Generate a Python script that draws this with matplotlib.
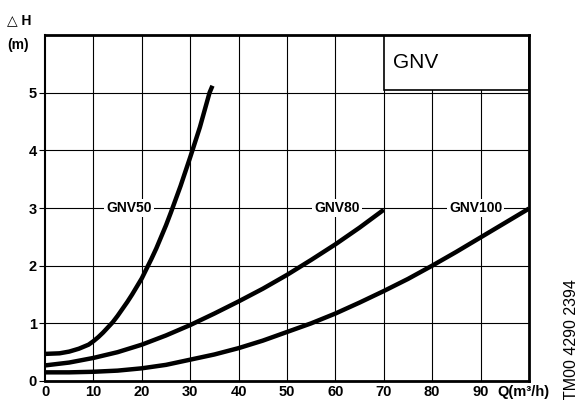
import matplotlib.pyplot as plt
from matplotlib.patches import Rectangle

# courbes : Q (m3/h) et perte de charge dH (m)
q_gnv50 = [0, 3, 5, 7, 9, 10, 11, 12, 13, 14, 15, 16, 17, 18, 19, 20, 21, 22, 23, 24, 25, 26, 27, 28, 29,
           30, 31, 32, 33, 34, 34.6]
h_gnv50 = [0.47, 0.48, 0.51, 0.56, 0.63, 0.69, 0.76, 0.84, 0.93, 1.02, 1.13, 1.25, 1.37, 1.5, 1.64, 1.78,
           1.95, 2.12, 2.3, 2.5, 2.7, 2.92, 3.15, 3.38, 3.63, 3.88, 4.14, 4.4, 4.7, 5.0, 5.12]

q_gnv80 = [0, 5, 10, 15, 20, 25, 30, 35, 40, 45, 50, 55, 60, 65, 70]
h_gnv80 = [0.27, 0.32, 0.4, 0.5, 0.63, 0.79, 0.97, 1.17, 1.38, 1.6, 1.84, 2.1, 2.37, 2.66, 2.97]

q_gnv100 = [0, 5, 10, 15, 20, 25, 30, 35, 40, 45, 50, 55, 60, 65, 70, 75, 80, 85, 90, 95, 100]
h_gnv100 = [0.15, 0.15, 0.16, 0.18, 0.22, 0.28, 0.37, 0.46, 0.57, 0.7, 0.85, 1.0, 1.17, 1.36, 1.56, 1.77,
            2.0, 2.24, 2.49, 2.74, 2.99]

x_ticks = [0, 10, 20, 30, 40, 50, 60, 70, 80, 90]
y_ticks = [0, 1, 2, 3, 4, 5]

curves = [(q_gnv50, h_gnv50, "GNV50", 17.3),
          (q_gnv80, h_gnv80, "GNV80", 60.3),
          (q_gnv100, h_gnv100, "GNV100", 89)]

plt.rcParams['font.family'] = ['Liberation Sans', 'DejaVu Sans']

fig = plt.figure(figsize=(5.86, 4.0), dpi=100)
ax = fig.add_axes([0.0768, 0.0475, 0.8259, 0.865])
ax.set_xlim(0, 100)
ax.set_ylim(0, 6)

for x in x_ticks[1:]:
    ax.axvline(x, color='black', lw=0.8, zorder=1)
for y in y_ticks[1:]:
    ax.axhline(y, color='black', lw=0.8, zorder=1)

ax.add_patch(Rectangle((70, 5.05), 30, 0.95, facecolor='white', edgecolor='black', lw=1.2, zorder=2))
ax.text(72, 5.52, "GNV", fontsize=15, va='center', ha='left', zorder=3)

for q, h, name, xl in curves:
    ax.plot(q, h, color='black', lw=3.2, solid_capstyle='butt', solid_joinstyle='round', zorder=4)
    ax.text(xl, 3, name, fontsize=10, fontweight='bold', ha='center', va='center', zorder=3,
            bbox=dict(facecolor='white', edgecolor='none', pad=1.5))

ax.set_xticks(x_ticks)
ax.set_xticklabels([str(v) for v in x_ticks])
ax.set_yticks(y_ticks)
ax.tick_params(axis='both', labelsize=10.5, width=0.8)
ax.tick_params(axis='x', length=0, pad=3)
ax.tick_params(axis='y', length=4, pad=2)
for lab in ax.get_xticklabels() + ax.get_yticklabels():
    lab.set_fontweight('bold')

for s in ax.spines.values():
    s.set_linewidth(2)
ax.spines['left'].set_linewidth(1.5)

fig.text(0.849, 0.003, "Q(m\u00b3/h)", fontsize=10.5, fontweight='bold', ha='left', va='bottom')
fig.text(0.012, 0.932, "\u25b3 H", fontsize=10, fontweight='bold', ha='left', va='bottom')
fig.text(0.012, 0.87, "(m)", fontsize=10, fontweight='bold', ha='left', va='bottom')
fig.text(0.975, 0.0, "TM00 4290 2394", fontsize=11.5, rotation=90, ha='center', va='bottom')

fig.savefig("out.png", dpi=100)
